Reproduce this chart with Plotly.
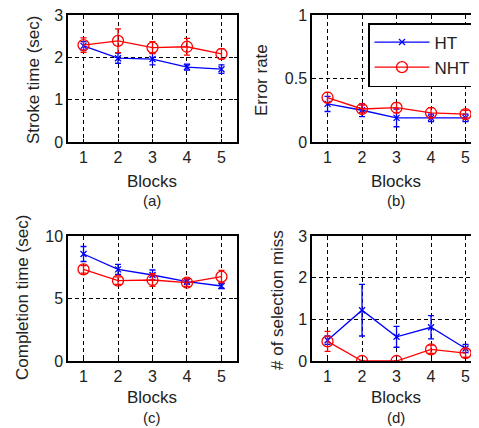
import plotly.graph_objects as go
from plotly.subplots import make_subplots

blocks = [1, 2, 3, 4, 5]

stroke_ht = [2.27, 1.98, 1.96, 1.77, 1.72]
stroke_ht_err = [0.10, 0.12, 0.14, 0.07, 0.10]
stroke_nht = [2.29, 2.39, 2.23, 2.25, 2.08]
stroke_nht_err = [0.17, 0.28, 0.14, 0.20, 0.12]

errrate_ht = [0.30, 0.25, 0.19, 0.19, 0.19]
errrate_ht_err = [0.06, 0.05, 0.07, 0.03, 0.03]
errrate_nht = [0.35, 0.26, 0.27, 0.23, 0.22]
errrate_nht_err = [0.04, 0.03, 0.04, 0.04, 0.03]

comp_ht = [8.56, 7.33, 6.88, 6.35, 6.00]
comp_ht_err = [0.6, 0.4, 0.4, 0.2, 0.2]
comp_nht = [7.33, 6.43, 6.48, 6.27, 6.75]
comp_nht_err = [0.3, 0.3, 0.5, 0.3, 0.5]

miss_ht = [0.50, 1.22, 0.58, 0.81, 0.30]
miss_ht_err = [0.10, 0.62, 0.25, 0.28, 0.10]
miss_nht = [0.47, 0.0, 0.0, 0.28, 0.19]
miss_nht_err = [0.24, 0.0, 0.0, 0.10, 0.10]

y_titles = ["Stroke time (sec)", "Error rate", "Completion time (sec)", "# of selection miss"]
panel_labels = ["(a)", "(b)", "(c)", "(d)"]
y_ranges = [[0, 3], [0, 1], [0, 10], [0, 3]]
y_ticks = [[0, 1, 2, 3], [0, 0.5, 1], [0, 5, 10], [0, 1, 2, 3]]
y_ticktext = [["0", "1", "2", "3"], ["0", "0.5", "1"], ["0", "5", "10"], ["0", "1", "2", "3"]]

# page has 8px body margin; figure is sized to fill the remaining window
OFF = 8
W, H = 479 - OFF, 428 - OFF
BLUE = "#0000FF"
RED = "#FF0000"
FONT = "Liberation Sans, Arial, sans-serif"
TXT = "#222222"


def px(x):
    return (x - OFF) / W


def py(y):
    return 1 - (y - OFF) / H


fig = make_subplots(rows=2, cols=2)

data = [
    (stroke_ht, stroke_ht_err, stroke_nht, stroke_nht_err),
    (errrate_ht, errrate_ht_err, errrate_nht, errrate_nht_err),
    (comp_ht, comp_ht_err, comp_nht, comp_nht_err),
    (miss_ht, miss_ht_err, miss_nht, miss_nht_err),
]
pos = [(1, 1), (1, 2), (2, 1), (2, 2)]

for i, ((h, he, n, ne), (r, c)) in enumerate(zip(data, pos)):
    fig.add_trace(go.Scatter(
        x=blocks, y=h, name="HT", mode="lines+markers",
        line=dict(color=BLUE, width=1.3),
        marker=dict(symbol="x-thin-open", size=6, color=BLUE, line=dict(color=BLUE, width=1.3)),
        error_y=dict(type="data", array=he, color=BLUE, thickness=1.3, width=3),
        showlegend=(i == 1),
    ), row=r, col=c)
    fig.add_trace(go.Scatter(
        x=blocks, y=n, name="NHT", mode="lines+markers",
        line=dict(color=RED, width=1.3),
        marker=dict(symbol="circle-open", size=11, color=RED, line=dict(color=RED, width=1.3)),
        error_y=dict(type="data", array=ne, color=RED, thickness=1.3, width=3),
        showlegend=(i == 1),
    ), row=r, col=c)

# domains in page pixels
px_domains = [
    ((68, 237), (15, 142)),
    ((312, 479), (15, 142)),
    ((68, 237), (236, 361)),
    ((312, 479), (236, 361)),
]
x_ranges = [[0.55, 5.45], [0.55, 5.39], [0.55, 5.45], [0.55, 5.39]]

for i, ((x0, x1), (yt, yb)) in enumerate(px_domains):
    xn = "xaxis" if i == 0 else f"xaxis{i+1}"
    yn = "yaxis" if i == 0 else f"yaxis{i+1}"
    fig.layout[xn].update(
        domain=[px(x0), min(px(x1), 1.0)], range=x_ranges[i], automargin=False,
        tickvals=blocks, ticks="inside", ticklen=3, tickcolor="black",
        showline=True, linecolor="black", linewidth=1.5, mirror="ticks",
        showgrid=True, gridcolor="black", gridwidth=1, griddash="4px,3px",
        zeroline=False, tickfont=dict(family=FONT, size=16, color=TXT),
        ticklabeloverflow="allow",
    )
    fig.layout[yn].update(
        domain=[py(yb), py(yt)], range=y_ranges[i], automargin=False,
        tickvals=y_ticks[i], ticktext=y_ticktext[i],
        ticks="inside", ticklen=3, tickcolor="black",
        showline=True, linecolor="black", linewidth=1.5, mirror="ticks",
        showgrid=True, gridcolor="black", gridwidth=1, griddash="4px,3px",
        zeroline=False, tickfont=dict(family=FONT, size=16, color=TXT),
        ticklabeloverflow="allow",
    )

annotations = []
ytitle_pos = [(33, 80), (261, 80), (22, 298), (277, 300)]
for t, (xc, yc) in zip(y_titles, ytitle_pos):
    annotations.append(dict(
        text=t, x=px(xc), y=py(yc), xref="paper", yref="paper",
        xanchor="center", yanchor="middle", textangle=-90, showarrow=False,
        font=dict(family=FONT, size=17, color=TXT),
    ))
blocks_pos = [(152, 181), (396, 181), (152, 397), (396, 397)]
lbl_pos = [(152, 201), (396, 201), (152, 417), (396, 417)]
for (xc, yc), (lx, ly), pl in zip(blocks_pos, lbl_pos, panel_labels):
    annotations.append(dict(
        text="Blocks", x=px(xc), y=py(yc), xref="paper", yref="paper",
        xanchor="center", yanchor="middle", showarrow=False,
        font=dict(family=FONT, size=17, color=TXT),
    ))
    annotations.append(dict(
        text=pl, x=px(lx), y=py(ly), xref="paper", yref="paper",
        xanchor="center", yanchor="middle", showarrow=False,
        font=dict(family=FONT, size=15, color=TXT),
    ))

fig.update_layout(
    width=W, height=H,
    margin=dict(l=0, r=0, t=0, b=0, autoexpand=False),
    paper_bgcolor="white", plot_bgcolor="white",
    annotations=annotations,
    legend=dict(
        x=px(476), y=py(23), xanchor="right", yanchor="top",
        bgcolor="white", bordercolor="black", borderwidth=1.5,
        font=dict(family=FONT, size=17, color=TXT),
        itemwidth=55, tracegroupgap=0,
    ),
)

fig.write_html("out.html")
